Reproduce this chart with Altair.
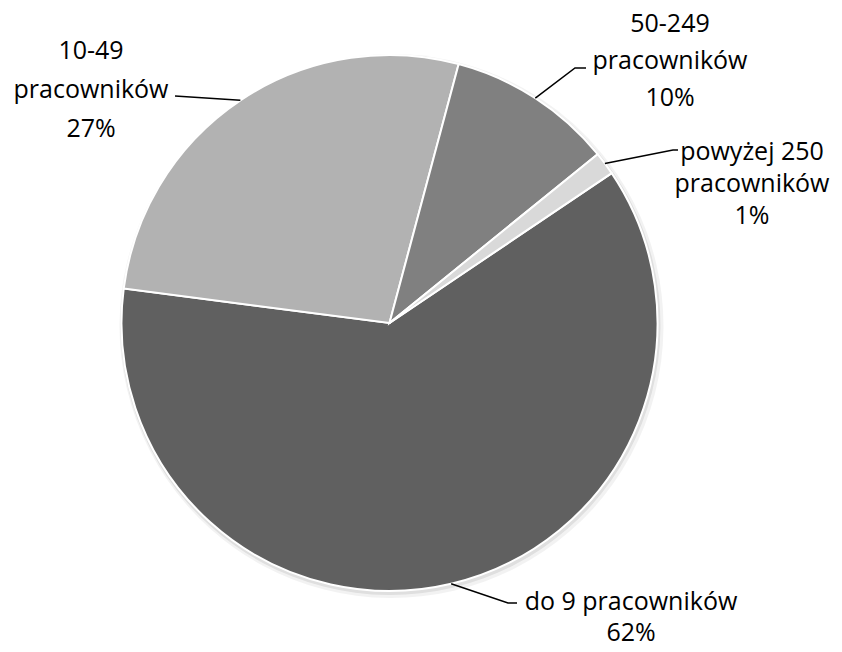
import math
import altair as alt
import pandas as pd

# ---- data ----
categories = ["do 9 pracowników", "10-49 pracowników", "50-249 pracowników", "powyżej 250 pracowników"]
shares = [61.5, 27.1, 10.0, 1.4]
label_texts = [
    ["do 9 pracowników", "62%"],
    ["10-49", "pracowników", "27%"],
    ["50-249", "pracowników", "10%"],
    ["powyżej 250", "pracowników", "1%"],
]
colors = ["#606060", "#b2b2b2", "#808080", "#d9d9d9"]

# ---- layout ----
W, H = 763, 630
PAD = {"left": 0, "top": 0, "right": 63, "bottom": 6}
R = 268
START_DEG = 56.0
FONT = "Open Sans"
FS = 25
CX, CY = 8 + W / 2, 8 + H / 2          # pie centre in page pixels
# label block centres, line heights, leader knee/end points (page pixels)
label_center = [(631, 617), (91, 90), (670, 61), (752, 184)]
line_height = [31, 39, 37, 32]
leader_knee = [(508, 603), (175, 96), (575, 68), (673, 150)]
leader_end = [(517, 603), (175, 96), (586, 68), (678, 150)]

pie_df = pd.DataFrame({"cat": categories, "share": shares, "idx": list(range(len(categories)))})

total = sum(shares)
rows_line = []
cum = 0.0
for i, (c, v) in enumerate(zip(categories, shares)):
    mid = math.radians(START_DEG + (cum + v / 2) / total * 360)
    cum += v
    sx, sy = R * math.sin(mid), -R * math.cos(mid)
    pts = [(sx, sy),
           (leader_knee[i][0] - CX, leader_knee[i][1] - CY),
           (leader_end[i][0] - CX, leader_end[i][1] - CY)]
    for k, (px, py) in enumerate(pts):
        rows_line.append({"cat": c, "k": k, "x": px, "y": py})
line_df = pd.DataFrame(rows_line)

rows_text = []
for i, lines in enumerate(label_texts):
    cx, cy = label_center[i][0] - CX, label_center[i][1] - CY
    n = len(lines)
    for j, t in enumerate(lines):
        rows_text.append({"t": t, "x": cx, "y": cy + (j - (n - 1) / 2) * line_height[i]})
text_df = pd.DataFrame(rows_text)

xs = alt.Scale(domain=[-W / 2, W / 2])
ys = alt.Scale(domain=[-H / 2, H / 2], reverse=True)

start = math.radians(START_DEG)
theta = alt.Theta("share:Q", stack=True, scale=alt.Scale(range=[start, start + 2 * math.pi]))

shadow1 = alt.Chart(pie_df).mark_arc(outerRadius=R + 4, color="#000000", opacity=0.05).encode(
    theta=theta, order=alt.Order("idx:Q"),
    x=alt.value(W / 2 + 2), y=alt.value(H / 2 + 3),
)
shadow2 = alt.Chart(pie_df).mark_arc(outerRadius=R + 2, color="#000000", opacity=0.08).encode(
    theta=theta, order=alt.Order("idx:Q"),
    x=alt.value(W / 2 + 1), y=alt.value(H / 2 + 2),
)

pie = alt.Chart(pie_df).mark_arc(outerRadius=R, stroke="white", strokeWidth=2).encode(
    theta=theta,
    order=alt.Order("idx:Q"),
    color=alt.Color("cat:N", scale=alt.Scale(domain=categories, range=colors), legend=None),
)

leaders = alt.Chart(line_df).mark_line(color="black", strokeWidth=1.5).encode(
    x=alt.X("x:Q", scale=xs, axis=None),
    y=alt.Y("y:Q", scale=ys, axis=None),
    detail="cat:N",
    order="k:Q",
)

texts = alt.Chart(text_df).mark_text(font=FONT, fontSize=FS, color="black", align="center", baseline="middle").encode(
    x=alt.X("x:Q", scale=xs, axis=None),
    y=alt.Y("y:Q", scale=ys, axis=None),
    text="t:N",
)

chart = alt.layer(shadow1, shadow2, pie, leaders, texts).properties(
    width=W, height=H, autosize="none",
    padding=PAD,
    background="white",
).configure_view(stroke=None)

chart.save("out.html", embed_options={"renderer": "svg", "actions": False})
